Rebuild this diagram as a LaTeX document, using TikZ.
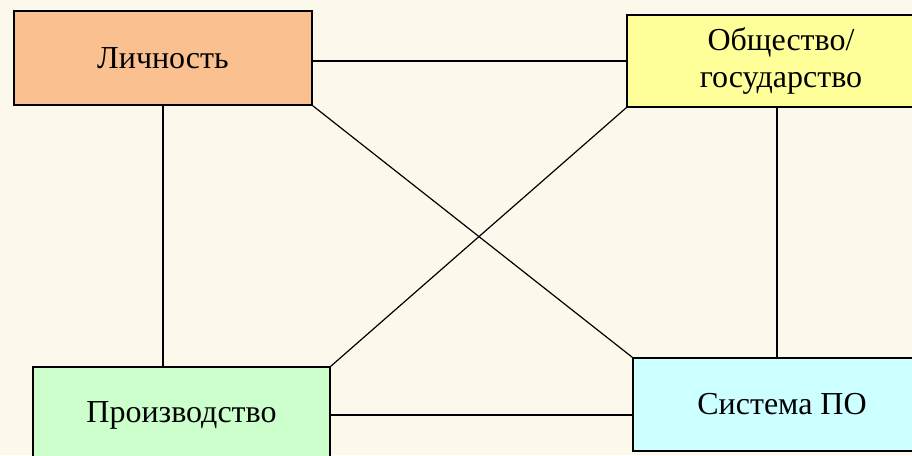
\documentclass[tikz,border=0pt]{standalone}
\usepackage{fontspec}
\setmainfont{Liberation Serif}
\definecolor{paper}{HTML}{FDF8EC}
\definecolor{peach}{HTML}{FAC090}
\definecolor{lemon}{HTML}{FFFF99}
\definecolor{mint}{HTML}{CCFFCC}
\definecolor{aqua}{HTML}{CCFFFF}
\begin{document}
\begin{tikzpicture}[x=1pt,y=-1pt]
\tikzstyle{block}=[rectangle,draw,line width=1.3pt,align=center,font=\fontsize{32}{37}\selectfont]
\tikzstyle{link}=[line width=1.2pt]
\fill[paper] (0,0) rectangle (912,455);
\clip (0,0) rectangle (912,455);
\node[block,fill=peach,minimum width=298pt,minimum height=94pt] (lich) at (163,58) {Личность};
\node[block,fill=lemon,minimum width=308pt,minimum height=92pt] (obsh) at (781,61) {Общество/\\государство};
\node[block,fill=mint,minimum width=297pt,minimum height=96pt] (proiz) at (181.5,415) {Производство};
\node[block,fill=aqua,minimum width=298pt,minimum height=93pt] (sist) at (782,404.5) {Система ПО};
\draw[link] (obsh.west) -- (obsh.west -| lich.east);
\draw[link] (lich.south) -- (lich.south |- proiz.north);
\draw[link] (obsh.south) ++(-4,0) coordinate (obshfoot) -- (obshfoot |- sist.north);
\draw[link] (proiz.east) -- (proiz.east -| sist.west);
\draw[link] (lich.south east) -- (sist.north west);
\draw[link] (obsh.south west) -- (proiz.north east);
\end{tikzpicture}
\end{document}
